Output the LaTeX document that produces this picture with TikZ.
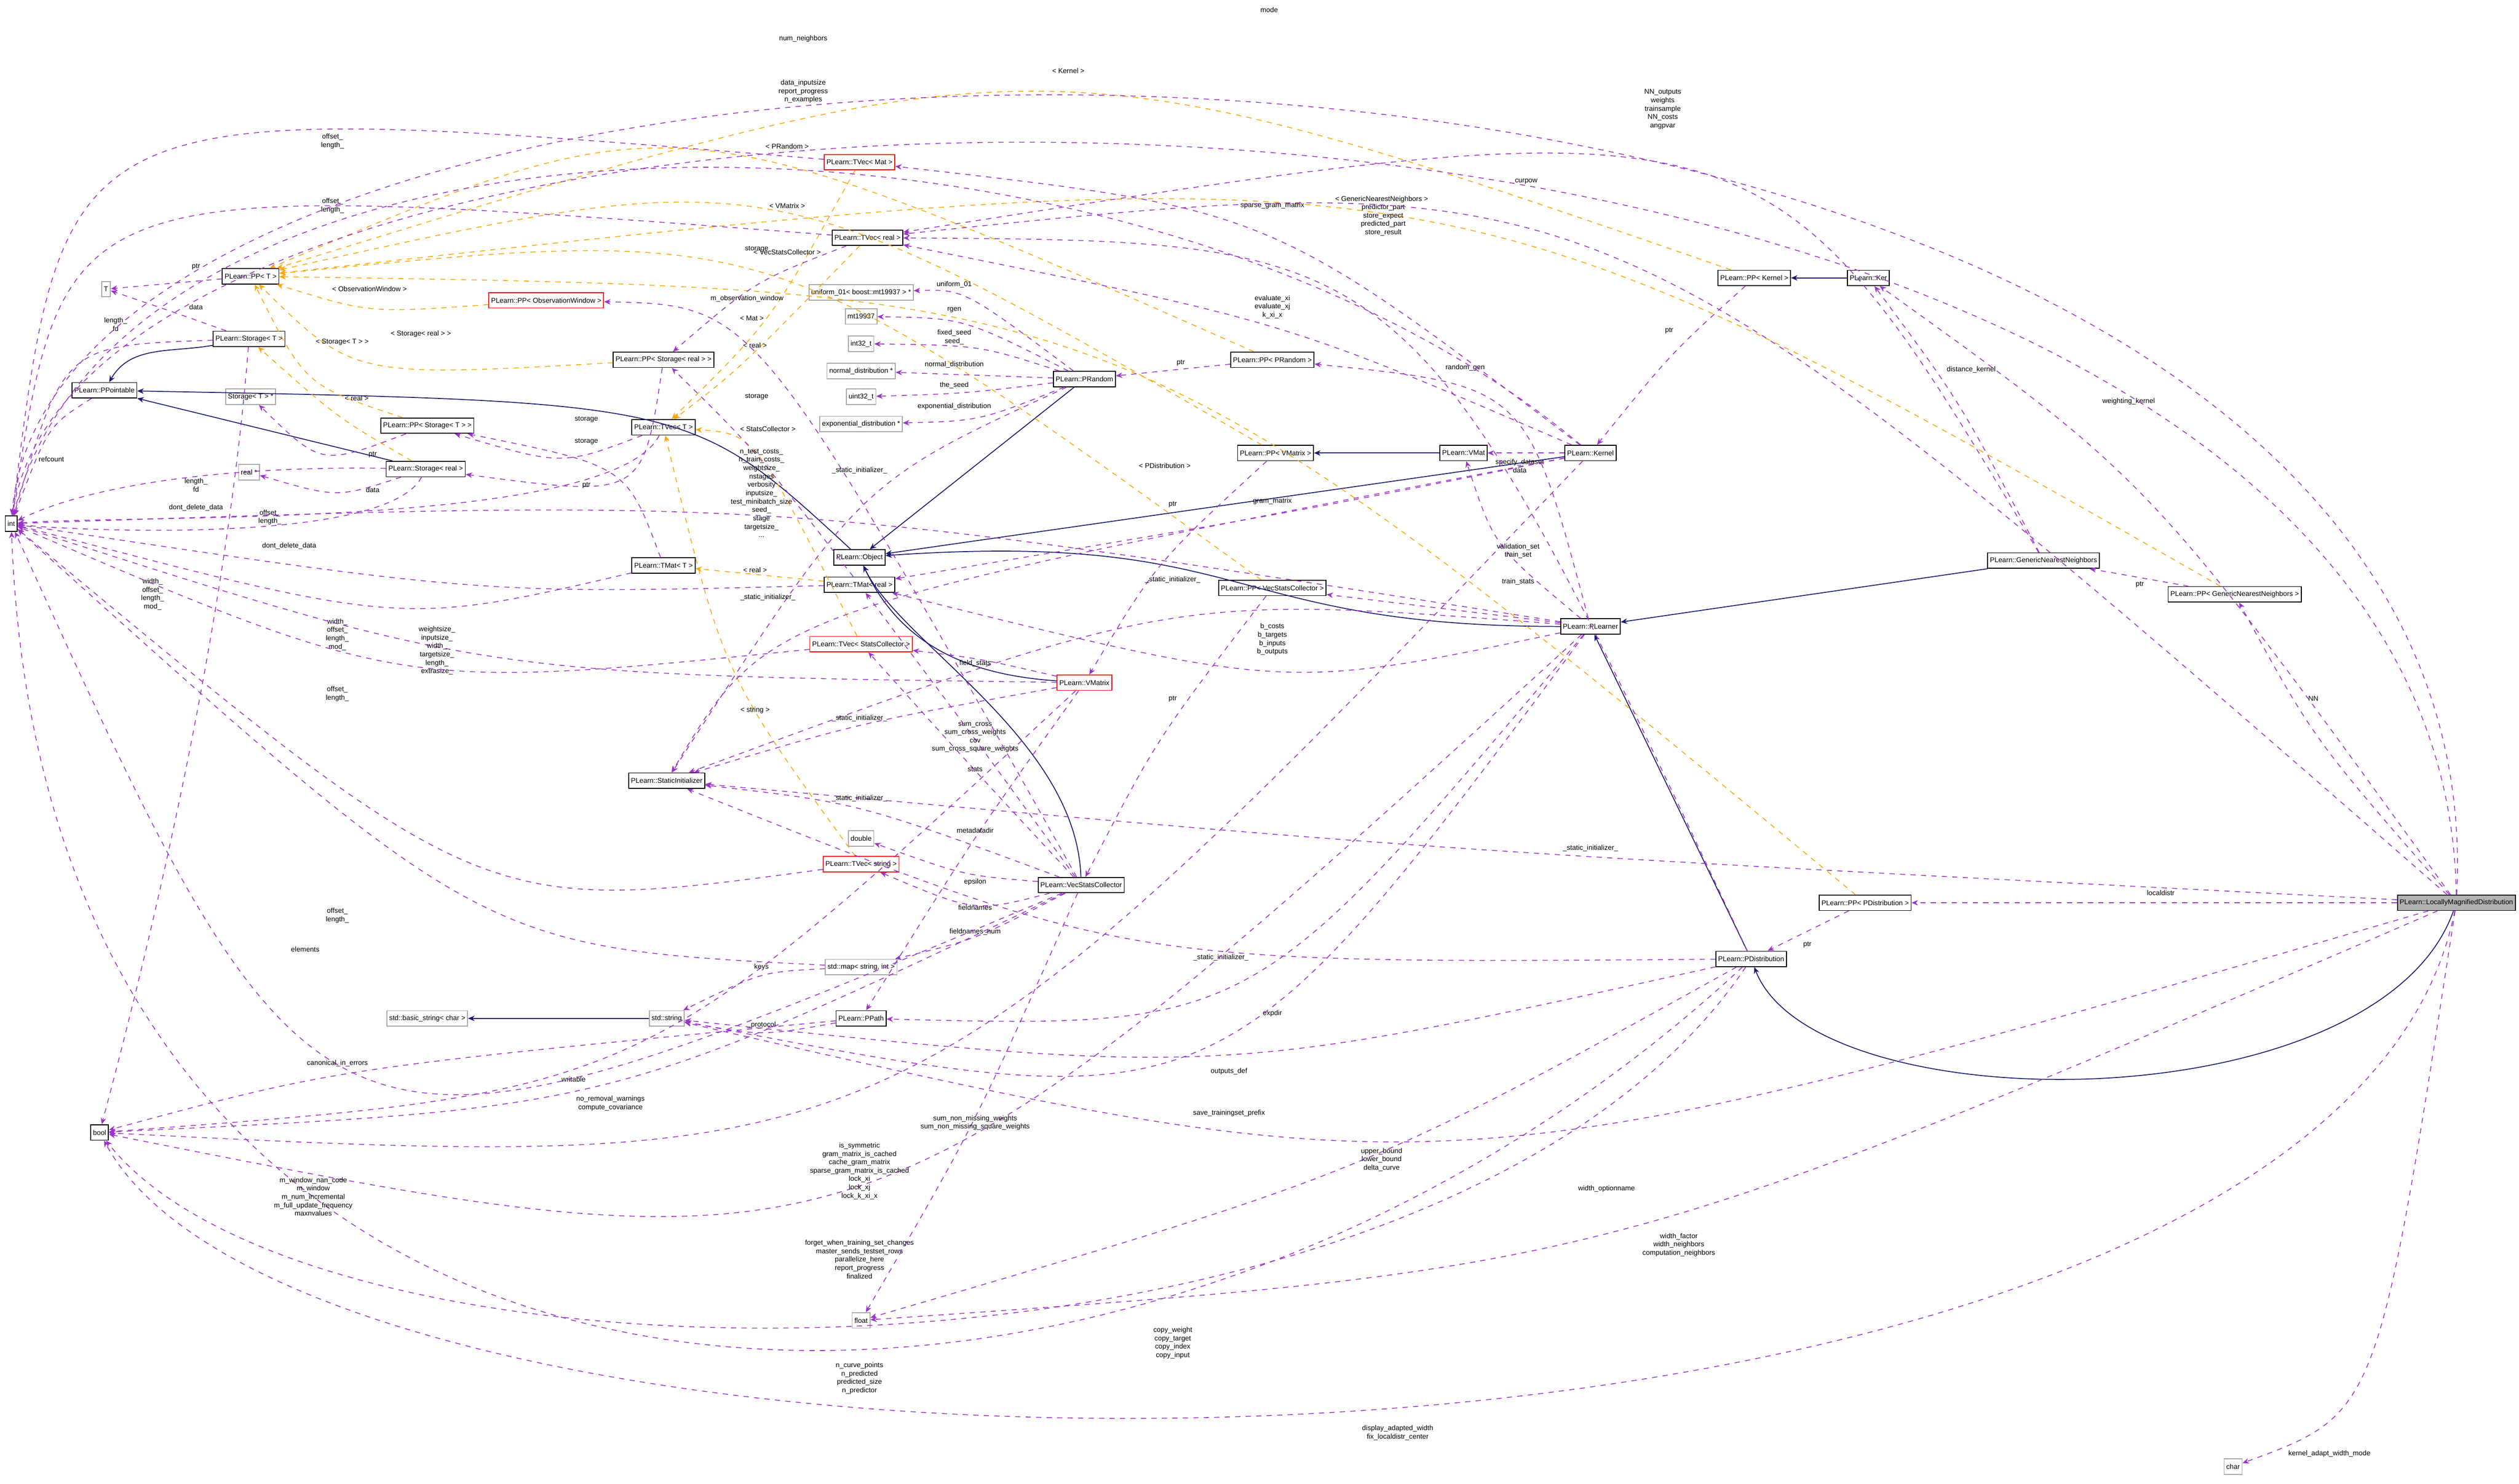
\documentclass[tikz,border=0pt]{standalone}
\usepackage{fontspec}
\setmainfont{Liberation Sans}
\usetikzlibrary{arrows.meta}
\definecolor{usecol}{HTML}{9A32CD}
\definecolor{tplcol}{HTML}{FFA500}
\definecolor{inhcol}{HTML}{191970}
\begin{document}
\begin{tikzpicture}[x=0.03233cm,y=-0.03233cm,
  every node/.style={font=\fontsize{4}{4.8}\selectfont},
  cls/.style={draw,fill=white,line width=0.5pt,inner sep=1.3pt,minimum height=3.1mm},
  gcls/.style={cls,draw=black!35},
  rcls/.style={cls,draw=red},
  lbl/.style={align=center,inner sep=0.5pt},
  use/.style={draw=usecol,dashed,line width=0.45pt,-{Stealth[length=1.3mm,width=1.1mm]}},
  tpl/.style={draw=tplcol,dashed,line width=0.45pt,-{Stealth[length=1.3mm,width=1.1mm]}},
  inh/.style={draw=inhcol,line width=0.5pt,-{Stealth[length=1.3mm,width=1.1mm]}}]
\useasboundingbox (0,0) rectangle (1568,923.6);
% classes
\node[cls] (int) at (7,326) {int};
\node[cls] (bool) at (62,705) {bool};
\node[gcls] (float) at (536,822) {float};
\node[gcls] (char) at (1390,913) {char};
\node[gcls] (T) at (66,180) {T};
\node[cls] (ppT) at (156,172) {PLearn::PP< T >};
\node[cls] (storT) at (155,211) {PLearn::Storage< T >};
\node[cls] (ppoint) at (65,243) {PLearn::PPointable};
\node[gcls] (storTp) at (156,247) {Storage< T > *};
\node[cls] (ppstorT) at (266,265) {PLearn::PP< Storage< T > >};
\node[gcls] (realp) at (155,294) {real *};
\node[cls] (storreal) at (265,292) {PLearn::Storage< real >};
\node[rcls] (ppobs) at (340,187) {PLearn::PP< ObservationWindow >};
\node[cls] (ppstorreal) at (413,224) {PLearn::PP< Storage< real > >};
\node[cls] (tvecT) at (413,266) {PLearn::TVec< T >};
\node[cls] (tmatT) at (413,352) {PLearn::TMat< T >};
\node[rcls] (tvecmat) at (535,101) {PLearn::TVec< Mat >};
\node[cls] (tvecreal) at (540,148) {PLearn::TVec< real >};
\node[gcls] (unif) at (536,182) {uniform\_01< boost::mt19937 > *};
\node[gcls] (mt) at (536,197) {mt19937};
\node[gcls] (i32) at (536,214) {int32\_t};
\node[gcls] (normal) at (536,231) {normal\_distribution *};
\node[gcls] (u32) at (536,247) {uint32\_t};
\node[gcls] (expo) at (536,264) {exponential\_distribution *};
\node[cls] (prandom) at (675,236) {PLearn::PRandom};
\node[cls] (ppprandom) at (792,224) {PLearn::PP< PRandom >};
\node[cls] (ppvmat) at (794,282) {PLearn::PP< VMatrix >};
\node[cls] (vmat) at (911,282) {PLearn::VMat};
\node[cls] (kernel) at (990,282) {PLearn::Kernel};
\node[cls] (ppker) at (1092,173) {PLearn::PP< Kernel >};
\node[cls] (ker) at (1163,173) {PLearn::Ker};
\node[cls] (object) at (535,347) {PLearn::Object};
\node[cls] (tmatreal) at (535,364) {PLearn::TMat< real >};
\node[cls] (ppvecstat) at (792,366) {PLearn::PP< VecStatsCollector >};
\node[cls] (gnn) at (1272,349) {PLearn::GenericNearestNeighbors};
\node[cls] (ppgnn) at (1391,370) {PLearn::PP< GenericNearestNeighbors >};
\node[cls] (plearner) at (990,390) {PLearn::PLearner};
\node[rcls] (tvecstat) at (536,401) {PLearn::TVec< StatsCollector >};
\node[rcls] (vmatrix) at (675,425) {PLearn::VMatrix};
\node[cls] (statinit) at (415,486) {PLearn::StaticInitializer};
\node[gcls] (double) at (536,522) {double};
\node[rcls] (tvecstring) at (536,538) {PLearn::TVec< string >};
\node[cls] (vecstats) at (673,551) {PLearn::VecStatsCollector};
\node[cls] (pppdist) at (1161,562) {PLearn::PP< PDistribution >};
\node[cls,fill=black!30] (lmd) at (1529,562) {PLearn::LocallyMagnifiedDistribution};
\node[cls] (pdist) at (1090,597) {PLearn::PDistribution};
\node[gcls] (map) at (536,602) {std::map< string, int >};
\node[gcls] (basic) at (266,634) {std::basic\_string< char >};
\node[gcls] (string) at (415,634) {std::string};
\node[cls] (ppath) at (536,634) {PLearn::PPath};
% inheritance
\draw[inh] (storT) to[out=190,in=60] (ppoint);
\draw[inh] (storreal) -- (ppoint);
\draw[inh] (object) .. controls (430,250) .. (ppoint);
\draw[inh] (vmat) -- (ppvmat);
\draw[inh] (ker) -- (ppker);
\draw[inh] (prandom) -- (object);
\draw[inh] (kernel) -- (object);
\draw[inh] (plearner) .. controls (760,390) and (780,330) .. (object);
\draw[inh] (vmatrix) .. controls (600,420) and (560,400) .. (object);
\draw[inh] (vecstats) .. controls (670,460) and (560,400) .. (object);
\draw[inh] (gnn) -- (plearner);
\draw[inh] (pdist) -- (plearner);
\draw[inh] (lmd) .. controls (1480,700) and (1130,700) .. (pdist);
\draw[inh] (string) -- (basic);
% templates
\draw[tpl] (tvecmat) .. controls (480,200) .. (tvecT);
\node[lbl] at (468,198) {< Mat >};
\draw[tpl] (tvecreal) .. controls (460,230) .. (tvecT);
\node[lbl] at (470,215) {< real >};
\draw[tpl] (tvecstat) .. controls (470,270) .. (tvecT);
\node[lbl] at (478,267) {< StatsCollector >};
\draw[tpl] (tvecstring) .. controls (450,420) .. (tvecT);
\node[lbl] at (470,442) {< string >};
\draw[tpl] (tmatreal) -- (tmatT);
\node[lbl] at (470,355) {< real >};
\draw[tpl] (ppobs) .. controls (230,195) .. (ppT);
\node[lbl] at (230,180) {< ObservationWindow >};
\draw[tpl] (ppstorreal) .. controls (220,235) .. (ppT);
\node[lbl] at (262,208) {< Storage< real > >};
\draw[tpl] (ppstorT) .. controls (190,240) .. (ppT);
\node[lbl] at (213,213) {< Storage< T > >};
\draw[tpl] (storreal) .. controls (210,260) .. (storT);
\node[lbl] at (222,248) {< real >};
\draw[tpl] (ppprandom) .. controls (420,60) .. (ppT);
\node[lbl] at (490,91) {< PRandom >};
\draw[tpl] (ppvmat) .. controls (480,100) .. (ppT);
\node[lbl] at (490,128) {< VMatrix >};
\draw[tpl] (ppker) .. controls (650,20) .. (ppT);
\node[lbl] at (665,44) {< Kernel >};
\draw[tpl] (ppvecstat) .. controls (480,140) .. (ppT);
\node[lbl] at (490,157) {< VecStatsCollector >};
\draw[tpl] (ppgnn) .. controls (900,90) .. (ppT);
\node[lbl] at (860,124) {< GenericNearestNeighbors >};
\draw[tpl] (pppdist) .. controls (700,180) .. (ppT);
\node[lbl] at (725,290) {< PDistribution >};
% members
\draw[use] (ppT) -- (T);
\node[lbl] at (122,166) {ptr};
\draw[use] (storT) .. controls (110,195) .. (T);
\node[lbl] at (122,191) {data};
\draw[use] (storT) .. controls (40,215) .. (int);
\node[lbl] at (72,202) {length\_\\fd};
\draw[use] (ppoint) .. controls (30,265) .. (int);
\node[lbl] at (32,286) {refcount};
\draw[use] (ppstorT) .. controls (200,290) .. (storTp);
\node[lbl] at (232,283) {ptr};
\draw[use] (storreal) .. controls (210,310) .. (realp);
\node[lbl] at (232,305) {data};
\draw[use] (storreal) .. controls (150,290) and (60,300) .. (int);
\node[lbl] at (122,302) {length\_\\fd};
\draw[use] (storT) .. controls (140,400) and (90,600) .. (bool);
\node[lbl] at (122,316) {dont\_delete\_data};
\draw[use] (storreal) .. controls (240,340) and (40,330) .. (int);
\node[lbl] at (180,340) {dont\_delete\_data};
\draw[use] (tvecT) .. controls (350,290) .. (ppstorT);
\node[lbl] at (365,261) {storage};
\draw[use] (tmatT) .. controls (390,290) .. (ppstorT);
\node[lbl] at (365,275) {storage};
\draw[use] (ppstorreal) .. controls (400,310) .. (storreal);
\node[lbl] at (365,302) {ptr};
\draw[use] (tvecT) .. controls (380,330) and (80,320) .. (int);
\node[lbl] at (168,322) {offset\_\\length\_};
\draw[use] (tmatT) .. controls (250,390) .. (int);
\node[lbl] at (95,370) {width\_\\offset\_\\length\_\\mod\_};
\draw[use] (tvecmat) .. controls (40,60) .. (int);
\node[lbl] at (207,88) {offset\_\\length\_};
\draw[use] (tvecreal) .. controls (40,110) .. (int);
\node[lbl] at (207,128) {offset\_\\length\_};
\draw[use] (tvecreal) .. controls (470,175) .. (ppstorreal);
\node[lbl] at (471,155) {storage};
\draw[use] (tmatreal) .. controls (470,280) .. (ppstorreal);
\node[lbl] at (471,247) {storage};
\draw[use] (tmatreal) .. controls (300,370) .. (int);
\node[lbl] at (210,395) {width\_\\offset\_\\length\_\\mod\_};
\draw[use] (vmatrix) .. controls (300,420) .. (int);
\node[lbl] at (272,405) {weightsize\_\\inputsize\_\\width\_\\targetsize\_\\length\_\\extrasize\_};
\draw[use] (tvecstat) .. controls (250,430) .. (int);
\node[lbl] at (210,432) {offset\_\\length\_};
\draw[use] (tvecstring) .. controls (300,570) .. (int);
\node[lbl] at (210,570) {offset\_\\length\_};
\draw[use] (map) .. controls (300,590) .. (int);
\node[lbl] at (190,591) {elements};
\draw[use] (prandom) .. controls (600,180) .. (unif);
\node[lbl] at (594,177) {uniform\_01};
\draw[use] (prandom) .. controls (600,198) .. (mt);
\node[lbl] at (594,193) {rgen};
\draw[use] (prandom) .. controls (610,215) .. (i32);
\node[lbl] at (594,210) {fixed\_seed\\seed\_};
\draw[use] (prandom) -- (normal);
\node[lbl] at (594,227) {normal\_distribution};
\draw[use] (prandom) .. controls (600,245) .. (u32);
\node[lbl] at (594,240) {the\_seed};
\draw[use] (prandom) .. controls (610,262) .. (expo);
\node[lbl] at (594,253) {exponential\_distribution};
\draw[use] (ppprandom) -- (prandom);
\node[lbl] at (735,226) {ptr};
\draw[use] (ppvmat) .. controls (720,350) .. (vmatrix);
\node[lbl] at (730,314) {ptr};
\draw[use] (kernel) -- (vmat);
\node[lbl] at (946,290) {specify\_dataset\\data};
\draw[use] (ppker) .. controls (1040,220) .. (kernel);
\node[lbl] at (1039,206) {ptr};
\draw[use] (ppvecstat) .. controls (720,460) .. (vecstats);
\node[lbl] at (730,435) {ptr};
\draw[use] (pppdist) -- (pdist);
\node[lbl] at (1125,588) {ptr};
\draw[use] (ppgnn) -- (gnn);
\node[lbl] at (1332,364) {ptr};
\draw[use] (lmd) -- (pppdist);
\node[lbl] at (1345,556) {localdistr};
\draw[use] (lmd) .. controls (1440,460) .. (ppgnn);
\node[lbl] at (1440,435) {NN};
\draw[use] (lmd) .. controls (1340,300) .. (ker);
\node[lbl] at (1325,250) {weighting\_kernel};
\draw[use] (gnn) .. controls (1220,250) .. (ker);
\node[lbl] at (1227,230) {distance\_kernel};
\draw[use] (plearner) -- (ppvecstat);
\node[lbl] at (945,362) {train\_stats};
\draw[use] (plearner) .. controls (930,340) .. (vmat);
\node[lbl] at (945,343) {validation\_set\\train\_set};
\draw[use] (plearner) .. controls (950,240) .. (ppprandom);
\node[lbl] at (912,229) {random\_gen};
\draw[use] (plearner) .. controls (800,430) .. (tmatreal);
\node[lbl] at (792,398) {b\_costs\\b\_targets\\b\_inputs\\b\_outputs};
\draw[use] (kernel) .. controls (800,200) .. (tvecreal);
\node[lbl] at (792,191) {evaluate\_xi\\evaluate\_xj\\k\_xi\_x};
\draw[use] (kernel) .. controls (800,320) .. (tmatreal);
\node[lbl] at (792,312) {gram\_matrix};
\draw[use] (kernel) .. controls (790,130) .. (tvecmat);
\node[lbl] at (792,128) {sparse\_gram\_matrix};
\draw[use] (pdist) .. controls (880,150) .. (tvecreal);
\node[lbl] at (861,137) {predictor\_part\\store\_expect\\predicted\_part\\store\_result};
\draw[use] (lmd) .. controls (1000,100) .. (tvecreal);
\node[lbl] at (950,113) {curpow};
\draw[use] (gnn) .. controls (1100,60) .. (tvecreal);
\node[lbl] at (1035,68) {NN\_outputs\\weights\\trainsample\\NN\_costs\\angpvar};
\draw[use] (lmd) .. controls (1560,-60) and (40,-60) .. (int);
\node[lbl] at (790,6) {mode};
\draw[use] (lmd) .. controls (1520,-20) and (60,-20) .. (int);
\node[lbl] at (500,24) {num\_neighbors};
\draw[use] (kernel) .. controls (700,40) and (80,40) .. (int);
\node[lbl] at (500,57) {data\_inputsize\\report\_progress\\n\_examples};
\draw[use] (pdist) .. controls (700,960) and (30,950) .. (int);
\node[lbl] at (535,858) {n\_curve\_points\\n\_predicted\\predicted\_size\\n\_predictor};
\draw[use] (pdist) .. controls (900,880) and (200,880) .. (bool);
\node[lbl] at (730,836) {copy\_weight\\copy\_target\\copy\_index\\copy\_input};
\draw[use] (lmd) .. controls (1450,960) and (200,960) .. (bool);
\node[lbl] at (870,892) {display\_adapted\_width\\fix\_localdistr\_center};
\draw[use] (lmd) .. controls (1480,880) .. (char);
\node[lbl] at (1450,905) {kernel\_adapt\_width\_mode};
\draw[use] (lmd) .. controls (1000,790) .. (float);
\node[lbl] at (1045,775) {width\_factor\\width\_neighbors\\computation\_neighbors};
\draw[use] (lmd) .. controls (900,745) .. (string);
\node[lbl] at (1000,740) {width\_optionname};
\draw[use] (lmd) .. controls (900,530) .. (statinit);
\node[lbl] at (990,528) {\_static\_initializer\_};
\draw[use] (pdist) .. controls (700,600) .. (statinit);
\node[lbl] at (760,596) {\_static\_initializer\_};
\draw[use] (pdist) .. controls (850,730) .. (float);
\node[lbl] at (860,722) {upper\_bound\\lower\_bound\\delta\_curve};
\draw[use] (pdist) .. controls (760,670) .. (string);
\node[lbl] at (765,667) {outputs\_def};
\draw[use] (plearner) .. controls (780,640) .. (ppath);
\node[lbl] at (792,631) {expdir};
\draw[use] (plearner) .. controls (760,700) .. (string);
\node[lbl] at (765,693) {save\_trainingset\_prefix};
\draw[use] (plearner) .. controls (540,800) .. (bool);
\node[lbl] at (535,784) {forget\_when\_training\_set\_changes\\master\_sends\_testset\_rows\\parallelize\_here\\report\_progress\\finalized};
\draw[use] (kernel) .. controls (560,730) .. (bool);
\node[lbl] at (535,729) {is\_symmetric\\gram\_matrix\_is\_cached\\cache\_gram\_matrix\\sparse\_gram\_matrix\_is\_cached\\lock\_xi\\lock\_xj\\lock\_k\_xi\_x};
\draw[use] (plearner) .. controls (480,310) .. (int);
\node[lbl] at (474,307) {n\_test\_costs\_\\n\_train\_costs\_\\weightsize\_\\nstages\\verbosity\\inputsize\_\\test\_minibatch\_size\\seed\_\\stage\\targetsize\_\\...};
\draw[use] (plearner) .. controls (730,370) .. (statinit);
\node[lbl] at (730,361) {\_static\_initializer\_};
\draw[use] (prandom) .. controls (535,300) .. (statinit);
\node[lbl] at (535,293) {\_static\_initializer\_};
\draw[use] (kernel) .. controls (478,380) .. (statinit);
\node[lbl] at (478,372) {\_static\_initializer\_};
\draw[use] (vmatrix) .. controls (610,410) .. (tvecstat);
\node[lbl] at (607,413) {field\_stats};
\draw[use] (vmatrix) .. controls (607,520) .. (ppath);
\node[lbl] at (607,517) {metadatadir};
\draw[use] (vmatrix) .. controls (400,680) .. (bool);
\node[lbl] at (357,672) {writable};
\draw[use] (vmatrix) .. controls (535,450) .. (statinit);
\node[lbl] at (535,447) {\_static\_initializer\_};
\draw[use] (vecstats) .. controls (607,460) .. (tmatreal);
\node[lbl] at (607,459) {sum\_cross\\sum\_cross\_weights\\cov\\sum\_cross\_square\_weights};
\draw[use] (vecstats) .. controls (607,480) .. (tvecstat);
\node[lbl] at (607,479) {stats};
\draw[use] (vecstats) .. controls (600,545) .. (double);
\node[lbl] at (607,549) {epsilon};
\draw[use] (vecstats) .. controls (607,568) .. (tvecstring);
\node[lbl] at (607,565) {fieldnames};
\draw[use] (vecstats) .. controls (607,585) .. (map);
\node[lbl] at (607,580) {fieldnames\_num};
\draw[use] (vecstats) .. controls (535,500) .. (statinit);
\node[lbl] at (535,497) {\_static\_initializer\_};
\draw[use] (vecstats) .. controls (380,690) .. (bool);
\node[lbl] at (380,687) {no\_removal\_warnings\\compute\_covariance};
\draw[use] (vecstats) .. controls (200,750) .. (int);
\node[lbl] at (195,745) {m\_window\_nan\_code\\m\_window\\m\_num\_incremental\\m\_full\_update\_frequency\\maxnvalues};
\draw[use] (vecstats) .. controls (470,190) .. (ppobs);
\node[lbl] at (465,186) {m\_observation\_window};
\draw[use] (vecstats) .. controls (607,700) .. (float);
\node[lbl] at (607,699) {sum\_non\_missing\_weights\\sum\_non\_missing\_square\_weights};
\draw[use] (map) .. controls (474,605) .. (string);
\node[lbl] at (474,602) {keys};
\draw[use] (ppath) .. controls (474,645) .. (string);
\node[lbl] at (474,638) {\_protocol};
\draw[use] (ppath) .. controls (210,665) .. (bool);
\node[lbl] at (210,662) {canonical\_in\_errors};
\end{tikzpicture}
\end{document}
